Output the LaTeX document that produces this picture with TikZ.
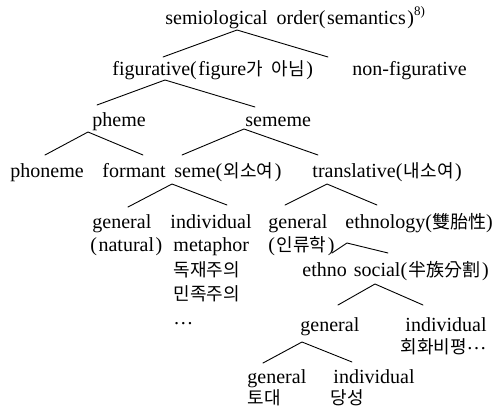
\documentclass[tikz,border=0pt]{standalone}
\usepackage{fontspec}
\setmainfont{Liberation Serif}
\newfontfamily\kr[Scale=0.9]{Noto Sans CJK KR}
\newcommand\po{(\kern1.5pt}
\newcommand\pc{\kern1.5pt)}
\begin{document}
\begin{tikzpicture}[x=1pt,y=-1pt,line join=round,line cap=round,line width=0.9pt,
  lbl/.style={anchor=base west,inner sep=0pt,font=\fontsize{20}{24}\selectfont}]
  \useasboundingbox (0,0) rectangle (495,413);
  % --- livelli superiori
  \node[lbl] (root)   at (165,24)  {semiological\hspace{0.45em}order\po semantics\pc\raisebox{0.9ex}{\fontsize{13}{13}\selectfont 8)}};
  \node[lbl] (fig)    at (112,75)  {figurative\po figure{\kr 가\hspace{0.5em}아님}\pc};
  \node[lbl] (nonfig) at (352,75)  {non-figurative};
  \node[lbl] (pheme)  at (92,126)  {pheme};
  \node[lbl] (sememe) at (245,126) {sememe};
  \node[lbl] (phon)   at (10,177)  {phoneme};
  \node[lbl] (form)   at (102,177) {formant};
  \node[lbl] (seme)   at (174,177) {seme\po{\kr 외소여}\pc};
  \node[lbl] (transl) at (312,177) {translative\po{\kr 내소여}\pc};

  % --- sotto seme e translative
  \node[lbl] (gen1)   at (92,228)  {general};
  \node[lbl] (gen1b)  at (90,251)  {\po natural\pc};
  \node[lbl] (ind1)   at (170,228) {individual};
  \node[lbl] (ind1b)  at (173,251) {metaphor};
  \node[lbl] (ind1c)  at (173,276) {\kr 독재주의};
  \node[lbl] (ind1d)  at (173,300) {\kr 민족주의};
  \node[lbl] (ind1e)  at (173,324) {\ldots};
  \node[lbl] (gen2)   at (268,228) {general};
  \node[lbl] (gen2b)  at (268,251) {\po{\kr 인류학}\pc};
  \node[lbl] (ethn)   at (345,228) {ethnology({\kr 雙胎性})};
  \node[lbl] (soc)    at (302,276) {ethno\hspace{0.35em}social\po{\kr 半族分割}\pc};

  % --- livelli inferiori
  \node[lbl] (genA)   at (300,331) {general};
  \node[lbl] (indA)   at (405,331) {individual};
  \node[lbl] (indAb)  at (400,353) {{\kr 회화비평}\raisebox{0.35ex}{\ldots}};
  \node[lbl] (genB)   at (247,383) {general};
  \node[lbl] (genBb)  at (247,404) {\kr 토대};
  \node[lbl] (indB)   at (333,383) {individual};
  \node[lbl] (indBb)  at (330,404) {\kr 당성};

  % --- vertici e estremi dei rami
  \coordinate (a-root) at (237,30);  \coordinate (l-root) at (163,57);  \coordinate (r-root) at (328,57);
  \coordinate (a-fig)  at (165,80);  \coordinate (l-fig)  at (97,105);  \coordinate (r-fig)  at (255,107);
  \coordinate (a-phe)  at (88,132);  \coordinate (l-phe)  at (45,155);  \coordinate (r-phe)  at (143,155);
  \coordinate (a-sem)  at (244,129); \coordinate (l-sem)  at (182,155); \coordinate (r-sem)  at (318,155);
  \coordinate (a-seme) at (172,184); \coordinate (l-seme) at (128,207); \coordinate (r-seme) at (227,205);
  \coordinate (a-tra)  at (327,184); \coordinate (l-tra)  at (285,205); \coordinate (r-tra)  at (377,205);
  \coordinate (a-eth)  at (347,243); \coordinate (l-eth)  at (332,253); \coordinate (r-eth)  at (388,253);
  \coordinate (a-soc)  at (375,284); \coordinate (l-soc)  at (338,305); \coordinate (r-soc)  at (423,305);
  \coordinate (a-gen)  at (302,342); \coordinate (l-gen)  at (263,363); \coordinate (r-gen)  at (352,362);

  % --- rami
  \draw (l-root) -- (a-root) -- (r-root);
  \draw (l-fig)  -- (a-fig)  -- (r-fig);
  \draw (l-phe)  -- (a-phe)  -- (r-phe);
  \draw (l-sem)  -- (a-sem)  -- (r-sem);
  \draw (l-seme) -- (a-seme) -- (r-seme);
  \draw (l-tra)  -- (a-tra)  -- (r-tra);
  \draw (l-eth)  -- (a-eth)  -- (r-eth);
  \draw (l-soc)  -- (a-soc)  -- (r-soc);
  \draw (l-gen)  -- (a-gen)  -- (r-gen);
\end{tikzpicture}
\end{document}
